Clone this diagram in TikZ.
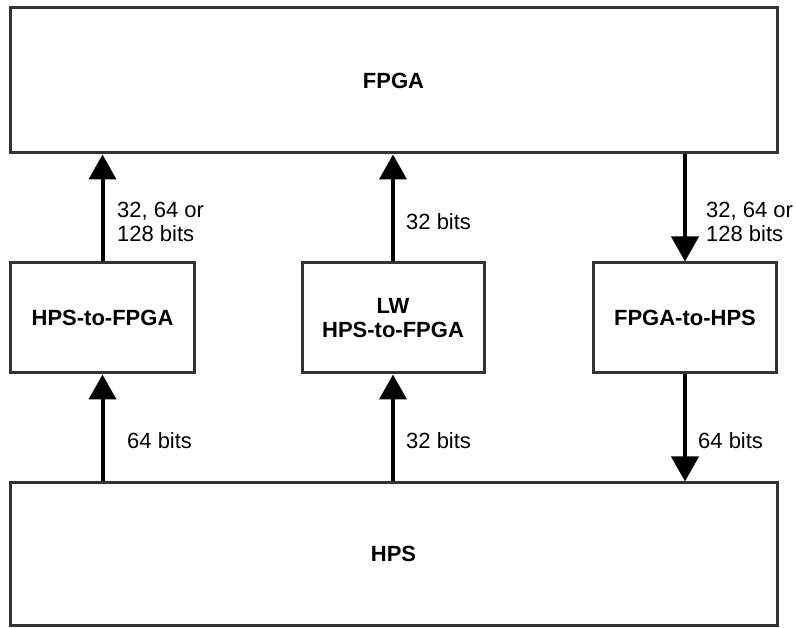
\documentclass[tikz,border=0pt]{standalone}
\usepackage{fontspec}
\setmainfont{Liberation Sans}
\usetikzlibrary{arrows.meta,calc}
\definecolor{boxgray}{HTML}{333333}
\begin{document}
\begin{tikzpicture}[x=1pt,y=-1pt,
  blk/.style={draw=boxgray,line width=3pt,fill=white,inner sep=0pt,
    font=\fontsize{22}{24}\selectfont\bfseries,align=center},
  lbl/.style={anchor=west,inner sep=0pt,align=left,
    font=\fontsize{22}{24}\selectfont},
  conn/.style={line width=4pt,-{Triangle[length=25pt,width=27pt]}}]
\useasboundingbox (0,0) rectangle (796,628);
\node[blk,minimum width=767pt,minimum height=145pt] (fpga) at (393.5,80.5) {FPGA};
\node[blk,minimum width=767pt,minimum height=142pt] (hps) at (393.5,554) {HPS};
\node[blk,minimum width=184pt,minimum height=110pt] (h2f) at (102.5,318) {HPS-to-FPGA};
\node[blk,minimum width=182pt,minimum height=110pt] (lw) at (393,318) {LW\\HPS-to-FPGA};
\node[blk,minimum width=183pt,minimum height=110pt] (f2h) at (685,318) {FPGA-to-HPS};
\draw[conn] (h2f.north) -- (h2f.north |- fpga.south);
\draw[conn] (lw.north) -- (lw.north |- fpga.south);
\draw[conn] (f2h.north |- fpga.south) -- (f2h.north);
\draw[conn] (h2f.south |- hps.north) -- (h2f.south);
\draw[conn] (lw.south |- hps.north) -- (lw.south);
\draw[conn] (f2h.south) -- (f2h.south |- hps.north);
\node[lbl] (l1) at (117,222) {32, 64 or\\128 bits};
\node[lbl] (l2) at (406,222) {32 bits};
\node[lbl] (l3) at (706,222) {32, 64 or\\128 bits};
\node[lbl] (l4) at (127,441) {64 bits};
\node[lbl] (l5) at (406,441) {32 bits};
\node[lbl] (l6) at (698,441) {64 bits};
\end{tikzpicture}
\end{document}
